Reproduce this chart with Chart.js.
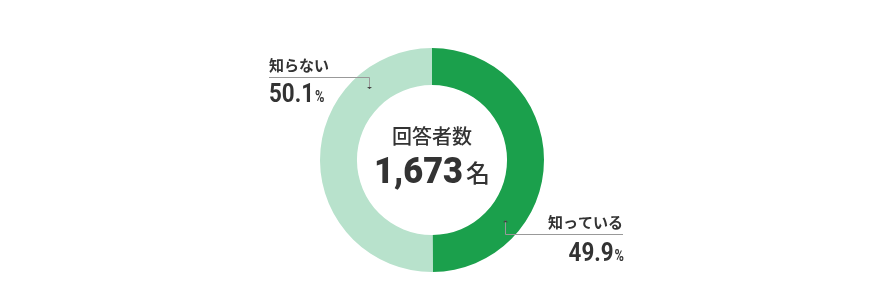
<!DOCTYPE html>
<html>
<head>
<meta charset="utf-8">
<script src="https://cdn.jsdelivr.net/npm/chart.js@4"></script>
<style>
  html, body { margin: 0; padding: 0; background: #fff; }
  #wrap { width: 880px; height: 300px; position: relative; }
</style>
</head>
<body>
<div id="wrap"><canvas id="donut"></canvas></div>
<script>
// データ
const labels = ['知っている', '知らない'];
const values = [49.9, 50.1];
const colors = ['#1ba04c', '#b8e2cc'];
const centerTitle = '回答者数';
const centerCount = '1,673';
const centerUnit = '名';

const numFont = 'Roboto, "DejaVu Sans", sans-serif';
const jpFont = '"Noto Sans CJK JP", "Noto Sans", sans-serif';
const textColor = '#333333';

// 横幅を詰めて描く(細長い数字フォントの代わり)
function narrowText(ctx, str, x, y, font, sx) {
  ctx.font = font;
  const w = ctx.measureText(str).width * sx;
  ctx.save();
  ctx.translate(x, y);
  ctx.scale(sx, 1);
  ctx.textAlign = 'left';
  ctx.textBaseline = 'alphabetic';
  ctx.fillText(str, 0, 0);
  ctx.restore();
  return w;
}

// 数値と小さい「%」
function drawPct(ctx, str, x, y, align) {
  const f1 = `bold 26px ${numFont}`, f2 = `bold 17px ${numFont}`, s = 0.86;
  ctx.font = f1;
  const wNum = ctx.measureText(str).width * s;
  ctx.font = f2;
  const wPct = ctx.measureText('%').width * 0.75;
  const left = align === 'right' ? x - wNum - wPct - 1 : x;
  narrowText(ctx, str, left, y, f1, s);
  narrowText(ctx, '%', left + wNum + 1, y, f2, 0.75);
}

function anchor(ctx, x, y, up) {
  ctx.beginPath();
  ctx.moveTo(x - 2, y + (up ? 2 : -2));
  ctx.lineTo(x + 3, y + (up ? 2 : -2));
  ctx.lineTo(x + 0.5, y);
  ctx.closePath();
  ctx.fillStyle = '#444';
  ctx.fill();
}

const labelPlugin = {
  id: 'donutLabels',
  afterDraw(chart) {
    const ctx = chart.ctx;
    const arc = chart.getDatasetMeta(0).data[0];
    const cx = arc.x, cy = arc.y;
    const r = (arc.innerRadius + arc.outerRadius) / 2 + 1.5;
    ctx.save();
    ctx.fillStyle = textColor;

    // 中央テキスト
    ctx.textAlign = 'center';
    ctx.textBaseline = 'middle';
    ctx.font = `500 20px ${jpFont}`;
    ctx.fillText(centerTitle, cx, cy - 24);
    const fCount = `900 37px ${numFont}`, sc = 0.93;
    ctx.font = fCount;
    const wCount = ctx.measureText(centerCount).width * sc;
    ctx.font = `500 24px ${jpFont}`;
    const wUnit = ctx.measureText(centerUnit).width;
    const startX = cx - (wCount + wUnit + 3) / 2;
    narrowText(ctx, centerCount, startX, cy + 23, fCount, sc);
    ctx.font = `500 24px ${jpFont}`;
    ctx.textAlign = 'left';
    ctx.textBaseline = 'alphabetic';
    ctx.fillText(centerUnit, startX + wCount + 3, cy + 22);

    ctx.strokeStyle = '#999999';
    ctx.lineWidth = 1;

    // 知らない(左上)
    const aL = -Math.PI / 2 - 0.726;
    const xL = Math.round(cx + r * Math.cos(aL)) + 0.5;
    const yL = cy + r * Math.sin(aL);
    const lineYL = Math.round(yL) - 12 + 0.5;
    const leftX = cx - 163;
    ctx.beginPath();
    ctx.moveTo(leftX, lineYL);
    ctx.lineTo(xL, lineYL);
    ctx.lineTo(xL, yL);
    ctx.stroke();
    anchor(ctx, xL - 0.5, yL, false);
    ctx.fillStyle = textColor;
    ctx.font = `bold 15px ${jpFont}`;
    ctx.textAlign = 'left';
    ctx.textBaseline = 'alphabetic';
    ctx.fillText(labels[1], leftX, lineYL - 7);
    drawPct(ctx, values[1].toFixed(1), leftX, lineYL + 24, 'left');

    // 知っている(右下)
    const aR = -Math.PI / 2 + 2.259;
    const xR = Math.round(cx + r * Math.cos(aR)) + 0.5;
    const yR = cy + r * Math.sin(aR);
    const lineYR = Math.round(yR) + 14 + 0.5;
    const rightX = cx + 191;
    ctx.beginPath();
    ctx.moveTo(xR, yR);
    ctx.lineTo(xR, lineYR);
    ctx.lineTo(rightX, lineYR);
    ctx.stroke();
    anchor(ctx, xR - 0.5, yR, true);
    ctx.fillStyle = textColor;
    ctx.font = `bold 15px ${jpFont}`;
    ctx.textAlign = 'right';
    ctx.textBaseline = 'alphabetic';
    ctx.fillText(labels[0], rightX, lineYR - 7);
    drawPct(ctx, values[0].toFixed(1), rightX + 1, lineYR + 26, 'right');

    ctx.restore();
  }
};

new Chart(document.getElementById('donut'), {
  type: 'doughnut',
  data: {
    labels: labels,
    datasets: [{
      data: values,
      backgroundColor: colors,
      borderWidth: 0
    }]
  },
  options: {
    responsive: true,
    maintainAspectRatio: false,
    animation: false,
    cutout: '67%',
    layout: { padding: { top: 48, bottom: 28, left: 0, right: 16 } },
    plugins: {
      legend: { display: false },
      tooltip: { enabled: false }
    }
  },
  plugins: [labelPlugin]
});
</script>
</body>
</html>
